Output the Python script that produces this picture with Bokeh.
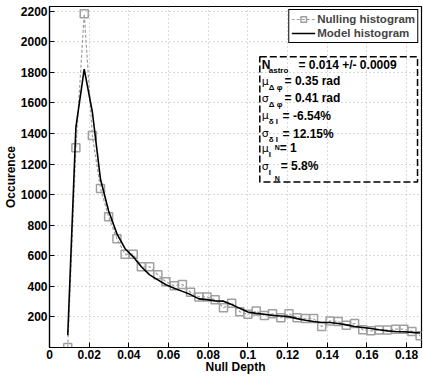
from bokeh.plotting import figure
from bokeh.models import (ColumnDataSource, Range1d, FixedTicker, Legend, LegendItem,
                          BoxAnnotation, Label)
from bokeh.embed import file_html
from bokeh.resources import INLINE

# ---------------- data ----------------
null_depth = [0.0092, 0.0133, 0.0175, 0.0216, 0.0257, 0.0298, 0.0340, 0.0381, 0.0422, 0.0463,
              0.0505, 0.0546, 0.0587, 0.0629, 0.0670, 0.0711, 0.0753, 0.0794, 0.0835, 0.0877,
              0.0918, 0.0959, 0.1000, 0.1042, 0.1083, 0.1124, 0.1166, 0.1207, 0.1248, 0.1290,
              0.1331, 0.1372, 0.1414, 0.1455, 0.1496, 0.1538, 0.1579, 0.1620, 0.1662, 0.1703,
              0.1744, 0.1786, 0.1827, 0.1868]
nulling_hist = [0, 1307, 2182, 1387, 1040, 855, 711, 610, 610, 528,
                528, 475, 430, 404, 412, 361, 331, 331, 313, 260,
                290, 234, 217, 238, 210, 221, 195, 221, 195, 189,
                189, 137, 174, 170, 146, 157, 116, 109, 114, 114,
                120, 120, 105, 77]
model_hist = [80, 1440, 1820, 1540, 1100, 893, 743, 646, 593, 528,
              475, 442, 410, 388, 367, 346, 318, 313, 305, 303,
              281, 256, 232, 223, 217, 210, 206, 202, 189, 178,
              170, 163, 163, 157, 148, 137, 131, 124, 116, 109,
              105, 103, 99, 95]

x_ticks = [0, 0.02, 0.04, 0.06, 0.08, 0.1, 0.12, 0.14, 0.16, 0.18]
x_tick_labels = ["0", "0.02", "0.04", "0.06", "0.08", "0.1", "0.12", "0.14", "0.16", "0.18"]
y_ticks = [200, 400, 600, 800, 1000, 1200, 1400, 1600, 1800, 2000, 2200]

series_names = ["Nulling histogram", "Model histogram"]
x_title = "Null Depth"
y_title = "Occurence"

stat_symbols = ["N", "\u03bc", "\u03c3", "\u03bc", "\u03c3", "\u03bc", "\u03c3"]
stat_subscripts = ["astro", "\u0394 \u03c6", "\u0394 \u03c6", "\u03b4 I", "\u03b4 I", "I", "I"]
stat_subsub = ["", "", "", "", "", "N", "N"]
stat_values = ["= 0.014 +/- 0.0009", "= 0.35 rad", "= 0.41 rad", "= -6.54%",
               "= 12.15%", "= 1", "= 5.8%"]

# ---------------- figure ----------------
FONT = "Liberation Sans"
XMAX, YMAX = 0.1875, 2230

p = figure(width=423, height=376, output_backend="svg", toolbar_location=None,
           x_range=Range1d(0, XMAX), y_range=Range1d(0, YMAX),
           min_border_left=44, min_border_right=2, min_border_top=6, min_border_bottom=20,
           background_fill_color="white", border_fill_color="white")

src = ColumnDataSource(dict(x=null_depth, n=nulling_hist, m=model_hist))

gray = "#a0a0a0"
r_nl = p.line("x", "n", source=src, line_color=gray, line_dash="3 2", line_width=1.2)
r_ns = p.scatter("x", "n", source=src, marker="square", size=8, fill_color=None,
                 line_color=gray, line_width=1.5)
r_m = p.line("x", "m", source=src, line_color="black", line_width=1.6)

# axes
for ax in (p.xaxis[0], p.yaxis[0]):
    ax.axis_line_color = "black"
    ax.axis_line_width = 1.2
    ax.major_tick_in = 5
    ax.major_tick_out = 0
    ax.major_tick_line_color = "black"
    ax.minor_tick_line_color = None
    ax.major_label_text_font = FONT
    ax.major_label_text_font_style = "bold"
    ax.major_label_text_font_size = "12px"
    ax.major_label_text_color = "black"
    ax.axis_label_text_font = FONT
    ax.axis_label_text_font_style = "bold"
    ax.axis_label_text_font_size = "12px"
    ax.axis_label_text_color = "black"

p.xaxis.ticker = FixedTicker(ticks=x_ticks)
p.xaxis.major_label_overrides = dict(zip(x_ticks, x_tick_labels))
p.yaxis.ticker = FixedTicker(ticks=y_ticks)
p.xaxis.axis_label = x_title
p.yaxis.axis_label = y_title
p.xaxis.major_label_standoff = 2
p.xaxis.axis_label_standoff = -2
p.yaxis.major_label_standoff = 2
p.yaxis.axis_label_standoff = 0

p.outline_line_color = "black"
p.outline_line_width = 1.2

p.xgrid.ticker = FixedTicker(ticks=x_ticks)
p.ygrid.ticker = FixedTicker(ticks=y_ticks)
for g in (p.xgrid[0], p.ygrid[0]):
    g.grid_line_color = "#b5b5b5"
    g.grid_line_dash = "1 3"
    g.grid_line_width = 1

# legend
legend = Legend(items=[LegendItem(label=series_names[0], renderers=[r_nl, r_ns]),
                       LegendItem(label=series_names[1], renderers=[r_m])],
                location="top_right", margin=3, padding=2, spacing=0,
                glyph_width=24, glyph_height=14, label_height=14, label_standoff=2,
                label_text_font=FONT, label_text_font_style="bold",
                label_text_font_size="11.5px", border_line_color="black",
                border_line_width=1.4, border_line_alpha=1,
                background_fill_color="white", background_fill_alpha=1)
p.add_layout(legend)

# stats text box (positions in frame pixels -> data units)
FX0, FY0, FW, FH = 46, 6, 375, 346


def dx(px):
    return (px - FX0) / FW * XMAX


def dy(py):
    return (FY0 + FH - py) / FH * YMAX


p.add_layout(BoxAnnotation(left=dx(258), right=dx(417), bottom=dy(184), top=dy(57),
                           fill_alpha=0, line_color="black", line_alpha=1,
                           line_dash="7 3", line_width=1.5))

line_y = [65, 82, 99, 117, 135, 150, 168]
value_x = [297, 283, 283, 281, 281, 278, 279]
for i in range(len(stat_symbols)):
    cy = line_y[i]
    greek = stat_symbols[i] != "N"
    p.add_layout(Label(x=dx(260), y=dy(cy), text=stat_symbols[i], text_baseline="middle",
                       text_align="left", text_font=FONT if not greek else "DejaVu Sans",
                       text_font_style="bold" if not greek else "normal",
                       text_font_size="12px" if not greek else "11px", text_color="black"))
    p.add_layout(Label(x=dx(267), y=dy(cy + 6), text=stat_subscripts[i], text_baseline="middle",
                       text_align="left", text_font=FONT, text_font_style="bold",
                       text_font_size="8px", text_color="black"))
    if stat_subsub[i]:
        p.add_layout(Label(x=dx(273), y=dy(cy + (-1 if i == 5 else 13)), text=stat_subsub[i],
                           text_baseline="middle", text_align="left", text_font=FONT,
                           text_font_style="bold", text_font_size="7px", text_color="black"))
    p.add_layout(Label(x=dx(value_x[i]), y=dy(cy), text=stat_values[i], text_baseline="middle",
                       text_align="left", text_font=FONT, text_font_style="bold",
                       text_font_size="12px", text_color="black"))

open("out.html", "w").write(file_html(p, INLINE))
